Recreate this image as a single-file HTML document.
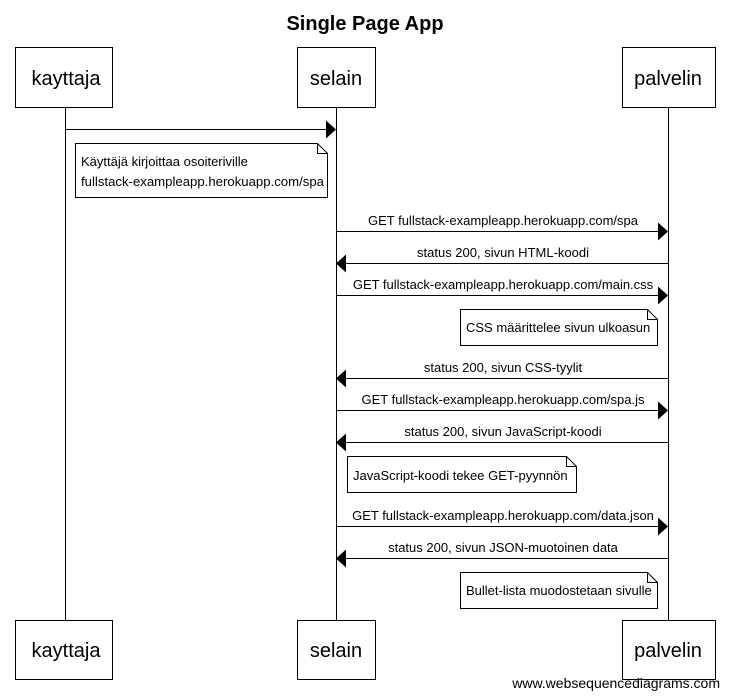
<!DOCTYPE html>
<html><head><style>body{margin:0;background:#fff}svg{display:block}text{font-family:"Liberation Sans",sans-serif;fill:#000}</style></head><body>
<svg width="729" height="699" xmlns="http://www.w3.org/2000/svg">
<text x="365" y="30" font-size="20" font-weight="bold" text-anchor="middle">Single Page App</text>
<g stroke="#000" stroke-width="1" fill="none">
<line x1="65.5" y1="107" x2="65.5" y2="620"/>
<line x1="336.5" y1="107" x2="336.5" y2="620"/>
<line x1="668.5" y1="107" x2="668.5" y2="620"/>
<rect x="15.5" y="47.5" width="97" height="60" fill="#fff"/>
<rect x="297.5" y="47.5" width="78" height="60" fill="#fff"/>
<rect x="622.5" y="47.5" width="93" height="60" fill="#fff"/>
<rect x="15.5" y="620.5" width="97" height="59" fill="#fff"/>
<rect x="297.5" y="620.5" width="78" height="59" fill="#fff"/>
<rect x="622.5" y="620.5" width="93" height="59" fill="#fff"/>
<line x1="65" y1="129.5" x2="328" y2="129.5"/>
<line x1="336" y1="231.5" x2="660" y2="231.5"/>
<line x1="345" y1="263.5" x2="668" y2="263.5"/>
<line x1="336" y1="295.5" x2="660" y2="295.5"/>
<line x1="345" y1="378.5" x2="668" y2="378.5"/>
<line x1="336" y1="410.5" x2="660" y2="410.5"/>
<line x1="345" y1="442.5" x2="668" y2="442.5"/>
<line x1="336" y1="526.5" x2="660" y2="526.5"/>
<line x1="345" y1="558.5" x2="668" y2="558.5"/>
<path d="M75.5 143.5H317.5L327.5 153.5V197.5H75.5Z" fill="#fff"/><path d="M317.5 143.5V153.5H327.5"/>
<path d="M460.5 309.5H647.5L657.5 319.5V345.5H460.5Z" fill="#fff"/><path d="M647.5 309.5V319.5H657.5"/>
<path d="M347.5 456.5H566.5L576.5 466.5V492.5H347.5Z" fill="#fff"/><path d="M566.5 456.5V466.5H576.5"/>
<path d="M460.5 572.5H647.5L657.5 582.5V608.5H460.5Z" fill="#fff"/><path d="M647.5 572.5V582.5H657.5"/>
</g>
<g fill="#000">
<path d="M336 129.5l-10-9v18z"/>
<path d="M668 231.5l-10-9v18z"/>
<path d="M336 263.5l10-9v18z"/>
<path d="M668 295.5l-10-9v18z"/>
<path d="M336 378.5l10-9v18z"/>
<path d="M668 410.5l-10-9v18z"/>
<path d="M336 442.5l10-9v18z"/>
<path d="M668 526.5l-10-9v18z"/>
<path d="M336 558.5l10-9v18z"/>
</g>
<g font-size="20" text-anchor="middle">
<text x="66" y="85">kayttaja</text><text x="336" y="85">selain</text><text x="668" y="85">palvelin</text>
<text x="66" y="657">kayttaja</text><text x="336" y="657">selain</text><text x="668" y="657">palvelin</text>
</g>
<g font-size="13">
<text x="81" y="166">Käyttäjä kirjoittaa osoiteriville</text>
<text x="81" y="186" textLength="243" lengthAdjust="spacingAndGlyphs">fullstack-exampleapp.herokuapp.com/spa</text>
<text x="466" y="332">CSS määrittelee sivun ulkoasun</text>
<text x="353" y="480">JavaScript-koodi tekee GET-pyynnön</text>
<text x="466" y="595">Bullet-lista muodostetaan sivulle</text>
</g>
<g font-size="13" text-anchor="middle">
<text x="503" y="225">GET fullstack-exampleapp.herokuapp.com/spa</text>
<text x="503" y="257">status 200, sivun HTML-koodi</text>
<text x="503" y="289">GET fullstack-exampleapp.herokuapp.com/main.css</text>
<text x="503" y="372">status 200, sivun CSS-tyylit</text>
<text x="503" y="404">GET fullstack-exampleapp.herokuapp.com/spa.js</text>
<text x="503" y="436">status 200, sivun JavaScript-koodi</text>
<text x="503" y="520">GET fullstack-exampleapp.herokuapp.com/data.json</text>
<text x="503" y="552">status 200, sivun JSON-muotoinen data</text>
</g>
<text x="720" y="688" font-size="14" text-anchor="end">www.websequencediagrams.com</text>
</svg>
</body></html>
